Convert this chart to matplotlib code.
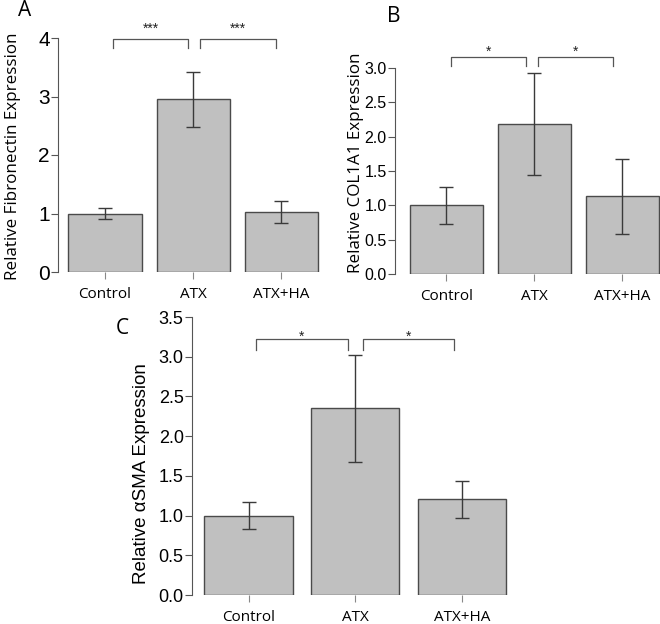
import matplotlib
matplotlib.use("Agg")
import matplotlib.pyplot as plt
import numpy as np

categories = ["Control", "ATX", "ATX+HA"]

fn_mean = [1.00, 2.95, 1.03]
fn_low = [0.90, 2.48, 0.84]
fn_high = [1.10, 3.42, 1.22]

col_mean = [1.00, 2.18, 1.14]
col_low = [0.73, 1.44, 0.58]
col_high = [1.26, 2.92, 1.68]

sma_mean = [1.00, 2.35, 1.21]
sma_low = [0.83, 1.68, 0.97]
sma_high = [1.17, 3.02, 1.44]

fn_ticks = [0, 1, 2, 3, 4]
col_ticks = [0.0, 0.5, 1.0, 1.5, 2.0, 2.5, 3.0]
sma_ticks = [0.0, 0.5, 1.0, 1.5, 2.0, 2.5, 3.0, 3.5]

W, H = 660, 624
fig = plt.figure(figsize=(W / 100, H / 100), dpi=100)

NUMFONT = "Liberation Sans"
CATFONT = "Open Sans"
BAR = "#c0c0c0"
EDGE = "#4a4a4a"
SPINE = "#555555"


def px_axes(left, top, right, bottom):
    return fig.add_axes([left / W, 1 - bottom / H, (right - left) / W, (bottom - top) / H])


def panel(ax, means, lows, highs, ticks, ylim, xlim, tick_fs, fmt,
          brackets, bracket_y, bracket_drop, star, star_y, star_fs):
    x = np.arange(len(means))
    means = np.array(means)
    err = np.vstack([means - np.array(lows), np.array(highs) - means])
    ax.bar(x, means, width=0.83, color=BAR, edgecolor=EDGE, linewidth=1.0, zorder=2)
    ax.errorbar(x, means, yerr=err, fmt="none", ecolor="#3a3a3a", elinewidth=1.0,
                capsize=5, capthick=1.0, zorder=3)
    ax.set_xlim(*xlim)
    ax.set_ylim(*ylim)
    for s in ["top", "right", "bottom"]:
        ax.spines[s].set_visible(False)
    ax.spines["left"].set_color(SPINE)
    ax.spines["left"].set_bounds(ticks[0], ticks[-1])
    ax.set_yticks(ticks)
    ax.set_yticklabels([fmt.format(t) for t in ticks], fontfamily=NUMFONT, fontsize=tick_fs)
    ax.set_xticks(x)
    ax.set_xticklabels(categories, fontfamily=CATFONT, fontsize=11)
    ax.tick_params(axis="y", direction="out", length=5, color=SPINE, pad=1)
    ax.tick_params(axis="x", direction="out", length=5, color="#888888", pad=6)
    for (a, b) in brackets:
        ax.plot([a, a, b, b], [bracket_y - bracket_drop, bracket_y, bracket_y, bracket_y - bracket_drop],
                color="#555555", lw=0.9, clip_on=False, zorder=4)
        ax.text((a + b) / 2, star_y, star, ha="center", va="center", fontsize=star_fs,
                fontfamily=NUMFONT, color="#222222", clip_on=False)


def vlabel(text, cx, cy, length, family):
    t = fig.text(cx / W, 1 - cy / H, text, rotation=90, ha="center", va="center",
                 fontfamily=family, fontsize=12)
    fig.canvas.draw()
    r = fig.canvas.get_renderer()
    bb = t.get_window_extent(r)
    t.set_fontsize(12 * length / bb.height)


# Panel A
axA = px_axes(58, 38, 322, 272)
panel(axA, fn_mean, fn_low, fn_high, fn_ticks, (0, 4), (-0.534, 2.46), 15, "{:.0f}",
      [(0.09, 0.94), (1.08, 1.94)], 3.98, 0.15, "***", 4.15, 10)

# Panel B
axB = px_axes(395, 68, 660, 274)
panel(axB, col_mean, col_low, col_high, col_ticks, (0, 3.0), (-0.585, 2.43), 11.5, "{:.1f}",
      [(0.05, 0.90), (1.04, 1.89)], 3.16, 0.13, "*", 3.23, 10)

# Panel C
axC = px_axes(192, 317, 512, 595)
panel(axC, sma_mean, sma_low, sma_high, sma_ticks, (0, 3.5), (-0.53, 2.47), 13, "{:.1f}",
      [(0.07, 0.93), (1.07, 1.93)], 3.22, 0.13, "*", 3.25, 10)

vlabel("Relative Fibronectin Expression", 13, 156, 246, CATFONT)
vlabel("Relative COL1A1 Expression", 356, 163, 220, CATFONT)
vlabel("Relative αSMA Expression", 141, 474, 222, NUMFONT)

fig.text(25 / W, 1 - 11 / H, "A", fontfamily=CATFONT, fontsize=15, ha="center", va="center")
fig.text(394 / W, 1 - 16 / H, "B", fontfamily=CATFONT, fontsize=15, ha="center", va="center")
fig.text(122 / W, 1 - 329 / H, "C", fontfamily=CATFONT, fontsize=15, ha="center", va="center")

fig.savefig("out.png", dpi=100, facecolor="white")
